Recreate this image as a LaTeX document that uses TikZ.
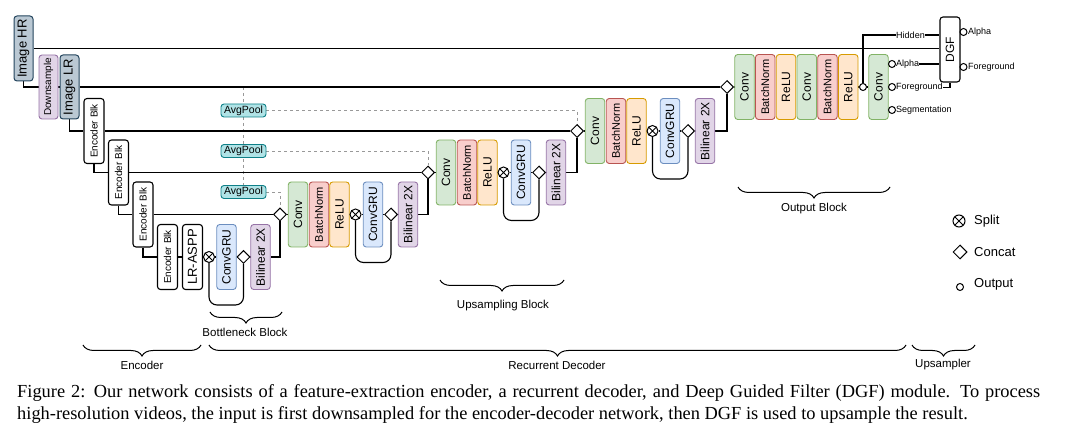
\documentclass[tikz,border=0pt]{standalone}
\usepackage{fontspec}
\setmainfont{Liberation Sans}
\newfontfamily\capfont{Liberation Serif}
\usetikzlibrary{shapes.geometric,decorations.pathreplacing,backgrounds}
\newcommand{\fsz}[1]{\fontsize{#1}{#1}\selectfont}
\newcommand{\vtxt}[1]{\rotatebox{90}{#1}}
\definecolor{convF}{HTML}{D5E8D4}\definecolor{convD}{HTML}{82B366}
\definecolor{bnF}{HTML}{F8CECC}\definecolor{bnD}{HTML}{B85450}
\definecolor{reluF}{HTML}{FFE6CC}\definecolor{reluD}{HTML}{D79B00}
\definecolor{gruF}{HTML}{DAE8FC}\definecolor{gruD}{HTML}{6C8EBF}
\definecolor{bilF}{HTML}{E1D5E7}\definecolor{bilD}{HTML}{9673A6}
\definecolor{imgF}{HTML}{BAC8D3}\definecolor{imgD}{HTML}{23445D}
\definecolor{avgF}{HTML}{B0E3E6}\definecolor{avgD}{HTML}{0E8088}
\definecolor{dashC}{HTML}{999999}
\tikzset{
  blk/.style={draw, line width=0.9pt, rounded corners=3pt, minimum width=19.5pt, minimum height=65pt, inner sep=0pt, font=\fsz{12}},
  convbox/.style={blk, fill=convF, draw=convD},
  bnbox/.style={blk, fill=bnF, draw=bnD, font=\fsz{11}},
  relubox/.style={blk, fill=reluF, draw=reluD},
  grubox/.style={blk, fill=gruF, draw=gruD},
  bilbox/.style={blk, fill=bilF, draw=bilD},
  imgbox/.style={blk, fill=imgF, draw=imgD, line width=1pt, minimum width=19pt, font=\fsz{13}},
  encbox/.style={blk, fill=white, draw=black, line width=1.1pt, minimum width=20pt, font=\fsz{10}},
  avgbox/.style={draw=avgD, fill=avgF, line width=0.9pt, rounded corners=3pt, minimum width=45pt, minimum height=13pt, inner sep=0pt, font=\fsz{10.5}},
  catnode/.style={diamond, draw, fill=white, line width=1pt, minimum width=13pt, minimum height=13pt, inner sep=0pt},
  splitnode/.style={circle, draw, fill=white, line width=1pt, minimum size=11pt, inner sep=0pt,
    path picture={\draw[line width=0.9pt] (path picture bounding box.north west) -- (path picture bounding box.south east)
      (path picture bounding box.north east) -- (path picture bounding box.south west);}},
  outnode/.style={circle, draw, fill=white, line width=1pt, minimum size=7pt, inner sep=0pt},
  wire/.style={line width=1.1pt},
  dsh/.style={draw=dashC, dash pattern=on 3pt off 3pt, line width=0.9pt},
  brc/.style={decorate, decoration={brace, mirror, amplitude=11pt}, line width=1pt},
  small/.style={inner sep=0pt, anchor=west, font=\fsz{9}},
  blabel/.style={inner sep=0pt, font=\fsz{11.5}},
  legend/.style={inner sep=0pt, anchor=west, font=\fsz{13}},
}
\begin{document}
\begin{tikzpicture}[x=1pt,y=-1pt]
\useasboundingbox (0,0) rectangle (1069,435);
% input and encoder
\node[imgbox] (imghr) at (23.5,48.5) {\vtxt{Image HR}};
\node[bilbox, minimum width=19pt, minimum height=64pt, font=\fsz{10}] (down) at (48.5,87) {\vtxt{Downsample}};
\node[imgbox, minimum height=64pt] (imglr) at (69.5,87) {\vtxt{Image LR}};
\node[encbox] (enc1) at (94,131) {\vtxt{Encoder Blk}};
\node[encbox] (enc2) at (118.5,172.5) {\vtxt{Encoder Blk}};
\node[encbox] (enc3) at (143,214.5) {\vtxt{Encoder Blk}};
\node[encbox] (enc4) at (167.5,257) {\vtxt{Encoder Blk}};
\node[encbox, font=\fsz{13}] (aspp) at (192.5,257) {\vtxt{LR-ASPP}};
% bottleneck
\node[splitnode] (split0) at (209,257) {};
\node[grubox] (gru0) at (226.5,257) {\vtxt{ConvGRU}};
\node[catnode] (cat0) at (243.5,257) {};
\node[bilbox] (bil0) at (260.5,257) {\vtxt{Bilinear 2X}};
% upsampling block 1
\node[catnode] (d1) at (280,214.5) {};
\node[convbox] (conv1) at (298,214.5) {\vtxt{Conv}};
\node[bnbox] (bn1) at (319,214.5) {\vtxt{BatchNorm}};
\node[relubox] (relu1) at (339.5,214.5) {\vtxt{ReLU}};
\node[splitnode] (split1) at (355.5,214.5) {};
\node[grubox] (gru1) at (373,214.5) {\vtxt{ConvGRU}};
\node[catnode] (cat1) at (391,214.5) {};
\node[bilbox] (bil1) at (408,214.5) {\vtxt{Bilinear 2X}};
% upsampling block 2
\node[catnode] (d2) at (428,172.5) {};
\node[convbox] (conv2) at (446,172.5) {\vtxt{Conv}};
\node[bnbox] (bn2) at (467,172.5) {\vtxt{BatchNorm}};
\node[relubox] (relu2) at (487.5,172.5) {\vtxt{ReLU}};
\node[splitnode] (split2) at (503.5,172.5) {};
\node[grubox] (gru2) at (521,172.5) {\vtxt{ConvGRU}};
\node[catnode] (cat2) at (539,172.5) {};
\node[bilbox] (bil2) at (556,172.5) {\vtxt{Bilinear 2X}};
% upsampling block 3
\node[catnode] (d3) at (577,131) {};
\node[convbox] (conv3) at (595,131) {\vtxt{Conv}};
\node[bnbox] (bn3) at (616,131) {\vtxt{BatchNorm}};
\node[relubox] (relu3) at (636.5,131) {\vtxt{ReLU}};
\node[splitnode] (split3) at (652.5,131) {};
\node[grubox] (gru3) at (670,131) {\vtxt{ConvGRU}};
\node[catnode] (cat3) at (688,131) {};
\node[bilbox] (bil3) at (705,131) {\vtxt{Bilinear 2X}};
% output block
\node[catnode] (d4) at (727,87) {};
\node[convbox] (oconv1) at (744.5,87) {\vtxt{Conv}};
\node[bnbox] (obn1) at (765.25,87) {\vtxt{BatchNorm}};
\node[relubox] (orelu1) at (786,87) {\vtxt{ReLU}};
\node[convbox] (oconv2) at (806.75,87) {\vtxt{Conv}};
\node[bnbox] (obn2) at (827.5,87) {\vtxt{BatchNorm}};
\node[relubox] (orelu2) at (848.25,87) {\vtxt{ReLU}};
\node[outnode] (outc) at (863,87) {};
\node[convbox] (convF) at (878.5,87) {\vtxt{Conv}};
\node[outnode] (oa) at (892,64) {};
\node[outnode] (of) at (892,87) {};
\node[outnode] (os) at (892,110) {};
\node[small] (la) at (896,64) {Alpha};
\node[small] (lf) at (896,87.5) {Foreground};
\node[small] (ls) at (896,110) {Segmentation};
\node[small, anchor=center] (hidden) at (910.5,35) {Hidden};
% DGF
\node[encbox, font=\fsz{12}] (dgf) at (950,49.5) {\vtxt{DGF}};
\node[outnode] (doa) at (963.5,32) {};
\node[outnode] (dof) at (963.5,67) {};
\node[small] (dla) at (968,32) {Alpha};
\node[small] (dlf) at (968,67) {Foreground};
% avgpool
\node[avgbox] (avg1) at (243.5,110.5) {AvgPool};
\node[avgbox] (avg2) at (243.5,151) {AvgPool};
\node[avgbox] (avg3) at (243.5,192) {AvgPool};
\coordinate (tap) at (243.5,87);
% legend
\node[splitnode, minimum size=12pt] (lgs) at (959,221) {};
\node[legend] (lgst) at (974,221) {Split};
\node[catnode, minimum width=14pt, minimum height=14pt] (lgc) at (960,252) {};
\node[legend] (lgct) at (974,252) {Concat};
\node[outnode] (lgo) at (960,287) {};
\node[legend] (lgot) at (974,284) {Output};
% block labels
\node[blabel] (bnlab) at (245,332) {Bottleneck Block};
\node[blabel] (uplab) at (503,306) {Upsampling Block};
\node[blabel] (oblab) at (814,209) {Output Block};
\node[blabel] (enlab) at (142,365) {Encoder};
\node[blabel] (rdlab) at (557,365) {Recurrent Decoder};
\node[blabel] (uslab) at (943,365) {Upsampler};
% caption
\node[inner sep=0pt, anchor=west, font=\capfont\fsz{18.4}] (cap1) at (17,393) {\makebox[1023pt][s]{Figure 2: Our network consists of a feature-extraction encoder, a recurrent decoder, and Deep Guided Filter (DGF) module. To process}};
\node[inner sep=0pt, anchor=west, font=\capfont\fsz{18.4}] (cap2) at (17,415) {high-resolution videos, the input is first downsampled for the encoder-decoder network, then DGF is used to upsample the result.};
% brace ends
\coordinate (b1a) at (210,312); \coordinate (b1b) at (282,312);
\coordinate (b2a) at (440,280); \coordinate (b2b) at (564,280);
\coordinate (b3a) at (738,187); \coordinate (b3b) at (890,187);
\coordinate (b4a) at (83,345); \coordinate (b4b) at (201,345);
\coordinate (b5a) at (209,345); \coordinate (b5b) at (906,345);
\coordinate (b6a) at (912,345); \coordinate (b6b) at (975,345);
\draw[brc] (b1a) -- (b1b);
\draw[brc] (b2a) -- (b2b);
\draw[brc] (b3a) -- (b3b);
\draw[brc] (b4a) -- (b4b);
\draw[brc] (b5a) -- (b5b);
\draw[brc] (b6a) -- (b6b);
\begin{scope}[on background layer]
\draw[dsh] (tap) -- (avg3.north);
\draw[dsh] (avg1.east) -| (d3.north);
\draw[dsh] (avg2.east) -| (d2.north);
\draw[dsh] (avg3.east) -| (d1.north);
\draw[wire] (imghr.east) -- (imghr.east -| dgf.west);
\draw[wire] (imghr.south) |- (down.west);
\draw[wire] (down.east) -- (imglr.west);
\draw[wire] (imglr.east) -- (d4.west);
\draw[wire] (imglr.south) |- (enc1.west);
\draw[wire] (enc1.east) -- (d3.west);
\draw[wire] (enc1.south) |- (enc2.west);
\draw[wire] (enc2.east) -- (d2.west);
\draw[wire] (enc2.south) |- (enc3.west);
\draw[wire] (enc3.east) -- (d1.west);
\draw[wire] (enc3.south) |- (enc4.west);
\draw[wire] (enc4.east) -- (aspp.west);
\draw[wire] (aspp.east) -- (split0.west);
\draw[wire] (split0.east) -- (gru0.west);
\draw[wire] (gru0.east) -- (cat0.west);
\draw[wire] (cat0.east) -- (bil0.west);
\draw[wire] (bil0.east) -| (d1.south);
\draw[wire, rounded corners=8pt] (split0.south) -- ++(0,42) -| (cat0.south);
\draw[wire] (d1.east) -- (conv1.west);
\draw[wire] (relu1.east) -- (split1.west);
\draw[wire] (split1.east) -- (gru1.west);
\draw[wire] (gru1.east) -- (cat1.west);
\draw[wire] (cat1.east) -- (bil1.west);
\draw[wire] (bil1.east) -| (d2.south);
\draw[wire, rounded corners=8pt] (split1.south) -- ++(0,42) -| (cat1.south);
\draw[wire] (d2.east) -- (conv2.west);
\draw[wire] (relu2.east) -- (split2.west);
\draw[wire] (split2.east) -- (gru2.west);
\draw[wire] (gru2.east) -- (cat2.west);
\draw[wire] (cat2.east) -- (bil2.west);
\draw[wire] (bil2.east) -| (d3.south);
\draw[wire, rounded corners=8pt] (split2.south) -- ++(0,42) -| (cat2.south);
\draw[wire] (d3.east) -- (conv3.west);
\draw[wire] (relu3.east) -- (split3.west);
\draw[wire] (split3.east) -- (gru3.west);
\draw[wire] (gru3.east) -- (cat3.west);
\draw[wire] (cat3.east) -- (bil3.west);
\draw[wire] (bil3.east) -| (d4.south);
\draw[wire, rounded corners=8pt] (split3.south) -- ++(0,42) -| (cat3.south);
\draw[wire] (d4.east) -- (oconv1.west);
\draw[wire] (orelu2.east) -- (outc.west);
\draw[wire] (outc.east) -- (convF.west);
\draw[wire] (outc.north) |- (hidden.west);
\draw[wire] (hidden.east) -- (hidden.east -| dgf.west);
\draw[wire] (la.east) -- (la.east -| dgf.west);
\draw[wire] (lf.east) -| (dgf.south);
\end{scope}
\end{tikzpicture}
\end{document}
